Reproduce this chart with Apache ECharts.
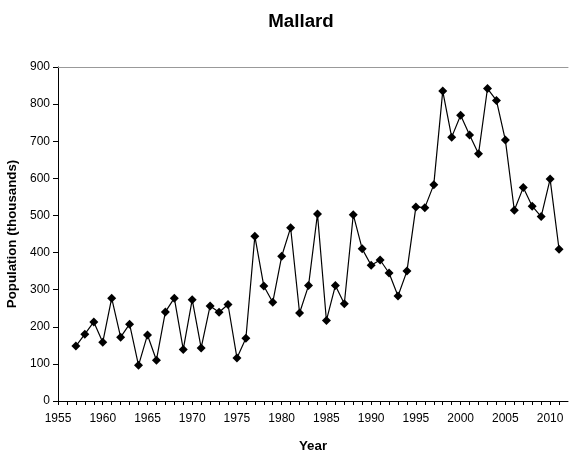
<!DOCTYPE html>
<html>
<head>
<meta charset="utf-8">
<script src="https://cdn.jsdelivr.net/npm/echarts@6/dist/echarts.min.js"></script>
<style>
  html, body { margin: 0; padding: 0; background: #fff; }
  #chart { width: 570px; height: 453px; }
</style>
</head>
<body>
<div id="chart"></div>
<script>
// survey years and population estimates (thousands)
var years = [1957, 1958, 1959, 1960, 1961, 1962, 1963, 1964, 1965, 1966,
             1967, 1968, 1969, 1970, 1971, 1972, 1973, 1974, 1975, 1976,
             1977, 1978, 1979, 1980, 1981, 1982, 1983, 1984, 1985, 1986,
             1987, 1988, 1989, 1990, 1991, 1992, 1993, 1994, 1995, 1996,
             1997, 1998, 1999, 2000, 2001, 2002, 2003, 2004, 2005, 2006,
             2007, 2008, 2009, 2010, 2011];
var population = [148, 180, 213, 158, 277, 172, 207, 96, 178, 110,
                  240, 277, 139, 273, 143, 256, 239, 260, 116, 169,
                  444, 310, 266, 390, 467, 237, 311, 504, 217, 311,
                  262, 502, 410, 366, 380, 345, 283, 350, 523, 521,
                  583, 835, 711, 770, 717, 666, 842, 810, 703, 514,
                  575, 525, 497, 598, 409];
var yearTicks = [1955, 1960, 1965, 1970, 1975, 1980, 1985, 1990, 1995, 2000, 2005, 2010];

var points = years.map(function (y, i) { return [y, population[i]]; });

var font = 'Liberation Sans, Arial, sans-serif';

var option = {
    animation: false,
    title: {
        text: 'Mallard',
        left: 296,
        top: 7,
        textAlign: 'center',
        textStyle: { fontFamily: font, fontSize: 18.7, fontWeight: 'bold', color: '#000' }
    },
    grid: { left: 58, right: 2, top: 67, bottom: 52, containLabel: false, outerBoundsMode: 'none' },
    xAxis: [{
        type: 'value',
        min: 1955,
        max: 2012,
        interval: 1,
        name: 'Year',
        nameLocation: 'middle',
        nameGap: 39,
        nameTextStyle: { fontFamily: font, fontSize: 13.3, fontWeight: 'bold', color: '#000' },
        axisLine: { lineStyle: { color: '#000', width: 1 } },
        axisTick: { show: true, inside: false, length: 4, lineStyle: { color: '#000' } },
        axisLabel: {
            fontFamily: font, fontSize: 12, color: '#000', margin: 12,
            showMaxLabel: false,
            formatter: function (v) { return yearTicks.indexOf(v) >= 0 ? String(v) : ''; }
        },
        splitLine: { show: false }
    }, {
        // plot area top edge
        type: 'value',
        position: 'top',
        min: 1955,
        max: 2012,
        axisLine: { show: true, lineStyle: { color: '#999', width: 1 } },
        axisTick: { show: false },
        axisLabel: { show: false },
        splitLine: { show: false }
    }],
    yAxis: {
        type: 'value',
        min: 0,
        max: 900,
        interval: 100,
        name: 'Population (thousands)',
        nameLocation: 'middle',
        nameGap: 32,
        nameTextStyle: { fontFamily: font, fontSize: 13.3, fontWeight: 'bold', color: '#000' },
        axisLine: { show: true, lineStyle: { color: '#000', width: 1 } },
        axisTick: { show: true, inside: false, length: 5, lineStyle: { color: '#000' } },
        axisLabel: { fontFamily: font, fontSize: 12, color: '#000', margin: 8 },
        splitLine: { show: false }
    },
    series: [{
        type: 'line',
        data: points,
        symbol: 'diamond',
        symbolSize: 9,
        itemStyle: { color: '#000' },
        lineStyle: { color: '#000', width: 1.2 }
    }]
};

var myChart = echarts.init(document.getElementById('chart'));
myChart.setOption(option);
</script>
</body>
</html>
